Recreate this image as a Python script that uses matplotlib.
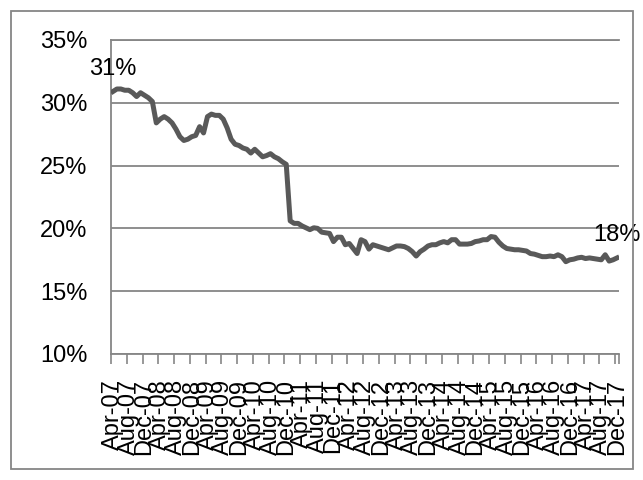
import matplotlib.pyplot as plt
from matplotlib.patches import Rectangle
import numpy as np

plt.rcParams['font.family'] = ['Liberation Sans', 'DejaVu Sans']

# monthly share, Apr-07 .. Dec-17
start_year, start_month = 2007, 4
share = [
    30.9, 31.1, 31.1, 31.0, 31.0, 30.8, 30.5, 30.8, 30.6, 30.4,
    30.1, 28.4, 28.7, 28.9, 28.7, 28.4, 27.9, 27.3, 27.0, 27.1,
    27.3, 27.4, 28.1, 27.6, 28.9, 29.1, 29.0, 29.0, 28.7, 28.0,
    27.1, 26.7, 26.6, 26.4, 26.3, 26.0, 26.3, 26.0, 25.7, 25.8,
    25.95, 25.7, 25.55, 25.3, 25.1, 20.6, 20.4, 20.4, 20.2, 20.05,
    19.9, 20.05, 20.0, 19.7, 19.65, 19.6, 18.95, 19.3, 19.3, 18.7,
    18.8, 18.4, 18.0, 19.1, 18.95, 18.35, 18.7, 18.6, 18.5, 18.4,
    18.3, 18.45, 18.6, 18.6, 18.55, 18.4, 18.15, 17.8, 18.15, 18.35,
    18.6, 18.7, 18.7, 18.85, 18.95, 18.85, 19.1, 19.1, 18.75, 18.75,
    18.75, 18.8, 18.95, 19.0, 19.1, 19.1, 19.35, 19.3, 18.9, 18.6,
    18.4, 18.35, 18.3, 18.3, 18.25, 18.2, 18.0, 17.95, 17.85, 17.75,
    17.75, 17.8, 17.75, 17.9, 17.75, 17.35, 17.5, 17.55, 17.65, 17.7,
    17.6, 17.65, 17.6, 17.55, 17.5, 17.9, 17.4, 17.5, 17.65,
]
y_ticks = [10, 15, 20, 25, 30, 35]

month_names = ['Jan', 'Feb', 'Mar', 'Apr', 'May', 'Jun',
               'Jul', 'Aug', 'Sep', 'Oct', 'Nov', 'Dec']
labels = []
for k in range(len(share)):
    m = start_month - 1 + k
    labels.append('%s-%02d' % (month_names[m % 12], (start_year + m // 12) % 100))

grey = '#868686'
line_col = '#595959'
fs = 17

fig = plt.figure(figsize=(6.43, 4.8), dpi=100)
fig.patches.append(Rectangle((11 / 643, 1 - 469 / 480), 622 / 643, 458 / 480,
                             transform=fig.transFigure, fill=False,
                             edgecolor=grey, linewidth=1.3))
ax = fig.add_axes([111 / 643, 1 - 354 / 480, 508 / 643, 314 / 480])

x = np.arange(len(share))
ax.plot(x, share, color=line_col, linewidth=3.6, solid_joinstyle='round', zorder=3)

ax.set_xlim(-0.5, len(share) - 0.5)
ax.set_ylim(10, 35)
ax.set_yticks(y_ticks)
ax.set_yticklabels(['%d%%' % v for v in y_ticks], fontsize=fs)
ax.yaxis.grid(True, color=grey, linewidth=1.3)
ax.set_axisbelow(True)
ax.tick_params(axis='y', length=0, pad=17)

# tick marks between category groups, labels on every 4th month
ax.set_xticks(list(np.arange(-0.5, len(share), 4)) + [len(share) - 0.5])
ax.set_xticklabels([])
ax.tick_params(axis='x', which='major', length=7, width=1.2, color=grey, direction='out')
ax.set_xticks(x[::4], minor=True)
ax.set_xticklabels(labels[::4], minor=True, rotation=90, fontsize=fs, va='top', ha='center')
ax.tick_params(axis='x', which='minor', length=0, pad=18)

for side in ['right']:
    ax.spines[side].set_visible(False)
for side in ['left', 'bottom', 'top']:
    ax.spines[side].set_color(grey)
    ax.spines[side].set_linewidth(1.3)

# end-point value labels
for i in [0, len(share) - 1]:
    ax.annotate('%d%%' % round(share[i]), (x[i], share[i]), xytext=(0, 12),
                textcoords='offset points', ha='center', va='baseline',
                fontsize=fs, clip_on=False, annotation_clip=False)

fig.savefig('out.png', dpi=100)
